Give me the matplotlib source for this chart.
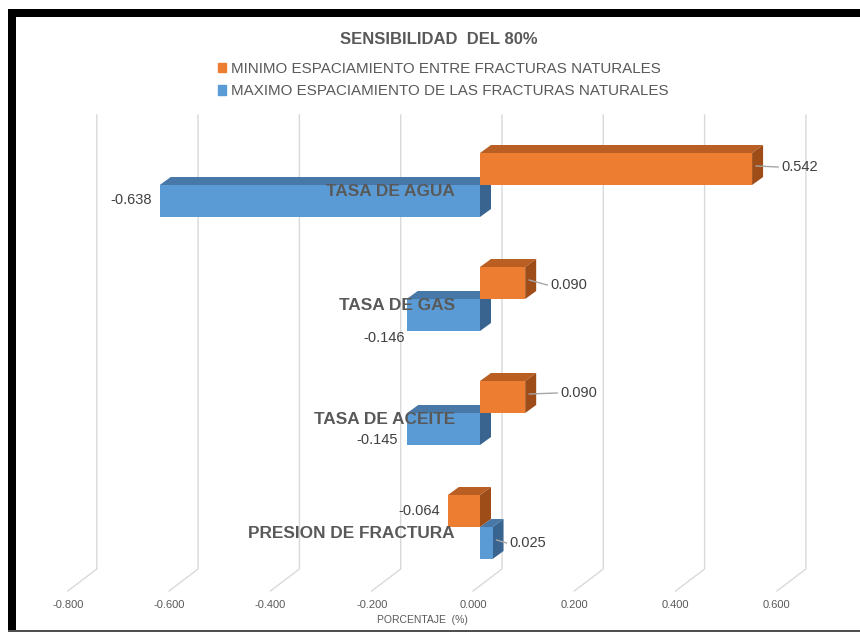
import matplotlib.pyplot as plt
from matplotlib.patches import Polygon, Rectangle, Patch

plt.rcParams['font.family'] = ['Liberation Sans', 'DejaVu Sans']

# datos
categorias = ["TASA DE AGUA", "TASA DE GAS", "TASA DE ACEITE", "PRESION DE FRACTURA"]
minimo = [0.542, 0.090, 0.090, -0.064]   # MINIMO ESPACIAMIENTO ENTRE FRACTURAS NATURALES
maximo = [-0.638, -0.146, -0.145, 0.025]  # MAXIMO ESPACIAMIENTO DE LAS FRACTURAS NATURALES
ticks = [-0.8, -0.6, -0.4, -0.2, 0.0, 0.2, 0.4, 0.6]
serie_min = "MINIMO ESPACIAMIENTO ENTRE FRACTURAS NATURALES"
serie_max = "MAXIMO ESPACIAMIENTO DE LAS FRACTURAS NATURALES"

# colores (frente, tapa, lateral)
NAR = ('#ED7D31', '#B95F24', '#9E4C18')
AZU = ('#5B9BD5', '#4878A8', '#3A6490')
GRIS = '#595959'

W, H = 860, 632
fig = plt.figure(figsize=(W / 100, H / 100), dpi=100)
ax = fig.add_axes([0, 0, 1, 1])

# escala: 1 unidad = 502 px, cero en x=480; una categoria = 114 px
X0, SX = 480, 502
Y0, SY = 185, 114
ax.set_xlim(-X0 / SX, (W - X0) / SX)
ax.set_ylim((H - Y0) / SY, -Y0 / SY)
ax.axis('off')


def px(d):
    return d / SX


def py(d):
    return d / SY


def fila(y):
    return (y - Y0) / SY


# rejilla en la pared del fondo + piso
for t in ticks:
    xb = t * 1.009 + px(22)
    xf = xb + px(-29)
    ax.plot([xb, xb, xf], [fila(115), fila(569), fila(591)],
            color='#d9d9d9', lw=1, zorder=1)
    ax.text(xf, fila(605), f"{t:.3f}", ha='center', va='center',
            fontsize=8, color=GRIS,
            family=['Liberation Sans Narrow', 'Liberation Sans'])

ax.text(px(-58), fila(620), "PORCENTAJE  (%)", ha='center', va='center',
        fontsize=7.5, color=GRIS,
        family=['Liberation Sans Narrow', 'Liberation Sans'])

h = py(32)
dx3, dy3 = px(11), py(8)


def barra3d(v, y_top, colores, z):
    x0, x1 = min(0, v), max(0, v)
    frente, tapa, lado = colores
    ax.add_patch(Polygon([(x0, y_top), (x1, y_top), (x1 + dx3, y_top - dy3),
                          (x0 + dx3, y_top - dy3)], fc=tapa, ec='none', zorder=z))
    ax.add_patch(Polygon([(x1, y_top), (x1 + dx3, y_top - dy3),
                          (x1 + dx3, y_top + h - dy3), (x1, y_top + h)],
                         fc=lado, ec='none', zorder=z))
    ax.add_patch(Rectangle((x0, y_top), x1 - x0, h, fc=frente, ec='none', zorder=z))


# desplazamiento de las etiquetas de datos (px)
off_min = [(29, -2), (25, 2), (35, -4), (-8, 0)]
off_max = [(-8, -1), (-2, 23), (-9, 11), (17, 0)]


def etiqueta(v, yc, off):
    ox, oy = off
    xt, yt = v + px(ox), yc + py(oy)
    if ox > 0:
        ax.plot([v + px(4), xt - px(3)], [yc - py(3), yt],
                color='#a6a6a6', lw=1, zorder=20)
    ax.text(xt, yt, f"{v:.3f}", ha='left' if ox > 0 else 'right',
            va='center', fontsize=10.5, color='#404040', zorder=21)


for k, cat in enumerate(categorias):
    barra3d(maximo[k], k, AZU, 5 + 2 * k)
    barra3d(minimo[k], k - h, NAR, 6 + 2 * k)
    etiqueta(minimo[k], k - h / 2, off_min[k])
    etiqueta(maximo[k], k + h / 2, off_max[k])
    ax.text(px(-25), k + py(7), cat, ha='right', va='center', fontsize=12.4,
            fontweight='bold', color=GRIS, zorder=30)

fig.text(439 / W, 1 - 39 / H, "SENSIBILIDAD  DEL 80%", ha='center', va='center',
         fontsize=12, fontweight='bold', color=GRIS)

fig.legend(handles=[Patch(color=NAR[0]), Patch(color=AZU[0])],
           labels=[serie_min, serie_max], loc='upper center',
           bbox_to_anchor=(443 / W, 1 - 62 / H), frameon=False, fontsize=10.9,
           labelcolor=GRIS, handlelength=0.55, handleheight=0.55,
           handletextpad=0.3, labelspacing=0.55, borderaxespad=0, borderpad=0)

# marco negro
fig.add_artist(Rectangle((8 / W, 0), 8 / W, 1 - 9 / H, transform=fig.transFigure,
                         fc='black', ec='none'))
fig.add_artist(Rectangle((8 / W, 1 - 17 / H), 1, 8 / H, transform=fig.transFigure,
                         fc='black', ec='none'))
fig.add_artist(Rectangle((8 / W, 0), 1, 2 / H, transform=fig.transFigure,
                         fc='#505050', ec='none'))

fig.savefig('out.png', dpi=100)
